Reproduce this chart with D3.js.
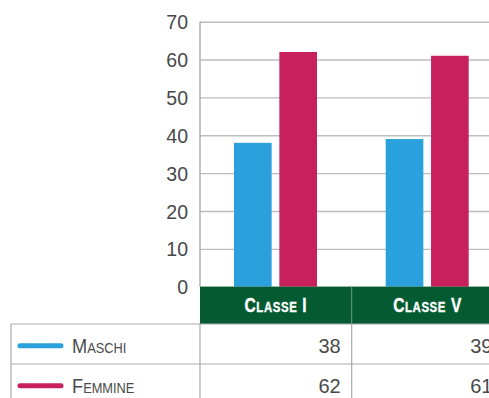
<!DOCTYPE html>
<html>
<head>
<meta charset="utf-8">
<script src="https://cdn.jsdelivr.net/npm/d3@7"></script>
<style>
  html, body { margin: 0; padding: 0; background: #fff; }
  svg { display: block; }
</style>
</head>
<body>
<svg id="chart" width="489" height="398"></svg>
<script>
// Data
const categories = ["Classe I", "Classe V"];
const seriesNames = ["Maschi", "Femmine"];
const maschi = [38, 39];
const femmine = [62, 61];
const yTicks = [0, 10, 20, 30, 40, 50, 60, 70];

const colors = { Maschi: "#2aa1dc", Femmine: "#c8205c" };
const green = "#045b31";
const gridColor = "#bdbdbd";
const borderColor = "#a9a9a9";
const font = "'Liberation Sans', Arial, sans-serif";

const svg = d3.select("#chart");

// Layout
const plotLeft = 200, plotTop = 21.7, plotBottom = 286.7;
const bandW = 151.7;
const headerBottom = 324;
const rowH = 40;
const tableLeft = 11;

const y = d3.scaleLinear().domain([0, 70]).range([plotBottom, plotTop]);
const x0 = d3.scaleBand().domain(categories).range([plotLeft, plotLeft + bandW * categories.length]).paddingInner(0).paddingOuter(0);
const x1 = d3.scaleBand().domain(seriesNames).range([34, 117]).paddingInner(0.17).paddingOuter(0);

const values = { Maschi: maschi, Femmine: femmine };

// Gridlines
const yAxis = d3.axisLeft(y).tickValues(yTicks).tickSize(-(489 - plotLeft + 20)).tickPadding(12).tickFormat(d3.format("d"));
const gAxis = svg.append("g").attr("transform", `translate(${plotLeft},0)`).call(yAxis);
gAxis.select(".domain").remove();
gAxis.selectAll(".tick line").attr("stroke", gridColor).attr("stroke-width", 1.4);
gAxis.selectAll(".tick text")
  .attr("fill", "#484848")
  .attr("font-family", font)
  .attr("font-size", 19.5)
  .attr("x", -12)
  .attr("dy", "0.36em");

// Y axis line
svg.append("line")
  .attr("x1", plotLeft).attr("x2", plotLeft)
  .attr("y1", y(70)).attr("y2", plotBottom)
  .attr("stroke", borderColor).attr("stroke-width", 1.4);

// Bars
const groups = svg.append("g").selectAll("g")
  .data(categories)
  .join("g")
  .attr("transform", d => `translate(${x0(d)},0)`);

groups.selectAll("rect")
  .data((d, i) => seriesNames.map(s => ({ s, v: values[s][i] })))
  .join("rect")
  .attr("x", d => x1(d.s))
  .attr("width", x1.bandwidth())
  .attr("y", d => y(d.v))
  .attr("height", d => plotBottom - y(d.v))
  .attr("fill", d => colors[d.s]);

// Small-caps helper: first letter large, the rest smaller uppercase
function smallCaps(sel, text, big, small) {
  const words = text.split(" ");
  words.forEach((w, wi) => {
    const first = w[0], rest = w.slice(1);
    sel.append("tspan").attr("font-size", big).text((wi > 0 ? " " : "") + first.toUpperCase());
    if (rest.length) {
      const isRoman = /^[IVX]+$/.test(w);
      sel.append("tspan").attr("font-size", isRoman ? big : small).text(rest.toUpperCase());
    }
  });
}

// Category header
svg.append("rect")
  .attr("x", plotLeft).attr("y", plotBottom)
  .attr("width", 489 - plotLeft).attr("height", headerBottom - plotBottom)
  .attr("fill", green);

categories.forEach((c, i) => {
  if (i > 0) {
    svg.append("line")
      .attr("x1", x0(c)).attr("x2", x0(c))
      .attr("y1", plotBottom).attr("y2", headerBottom)
      .attr("stroke", "#6f9a80").attr("stroke-width", 1);
  }
  const t = svg.append("text")
    .attr("transform", `translate(${x0(c) + bandW / 2},312) scale(0.76,1)`)
    .attr("text-anchor", "middle")
    .attr("fill", "#fff")
    .attr("font-family", font)
    .attr("font-weight", 700)
    .attr("stroke", "#fff")
    .attr("stroke-width", 0.4)
    .attr("letter-spacing", 0.8);
  smallCaps(t, c, 20.5, 15);
});

// Data table
const tableRight = 489 + 20;
const rows = seriesNames.map((s, i) => ({ s, top: headerBottom + i * rowH }));

// horizontal borders
[headerBottom, headerBottom + rowH, headerBottom + 2 * rowH].forEach(yy => {
  svg.append("line")
    .attr("x1", tableLeft).attr("x2", tableRight)
    .attr("y1", yy).attr("y2", yy)
    .attr("stroke", borderColor).attr("stroke-width", 1.2);
});
// vertical borders
[tableLeft, plotLeft, ...categories.slice(1).map(c => x0(c))].forEach(xx => {
  svg.append("line")
    .attr("x1", xx).attr("x2", xx)
    .attr("y1", headerBottom).attr("y2", headerBottom + 2 * rowH)
    .attr("stroke", borderColor).attr("stroke-width", 1.2);
});

rows.forEach((r, i) => {
  const midY = r.top + rowH / 2 + 1.7;
  svg.append("line")
    .attr("x1", 20).attr("x2", 61)
    .attr("y1", midY).attr("y2", midY)
    .attr("stroke", colors[r.s]).attr("stroke-width", 5)
    .attr("stroke-linecap", "round");
  const t = svg.append("text")
    .attr("transform", `translate(72,${r.top + 28.7}) scale(0.93,1)`)
    .attr("fill", "#4a4a4a")
    .attr("font-family", font)
    .attr("font-weight", 400);
  smallCaps(t, r.s, 19.6, 13.8);

  categories.forEach((c, ci) => {
    svg.append("text")
      .attr("x", x0(c) + bandW - 11)
      .attr("y", r.top + 28.7)
      .attr("text-anchor", "end")
      .attr("fill", "#4a4a4a")
      .attr("font-family", font)
      .attr("font-size", 20)
      .text(values[r.s][ci]);
  });
});
</script>
</body>
</html>
